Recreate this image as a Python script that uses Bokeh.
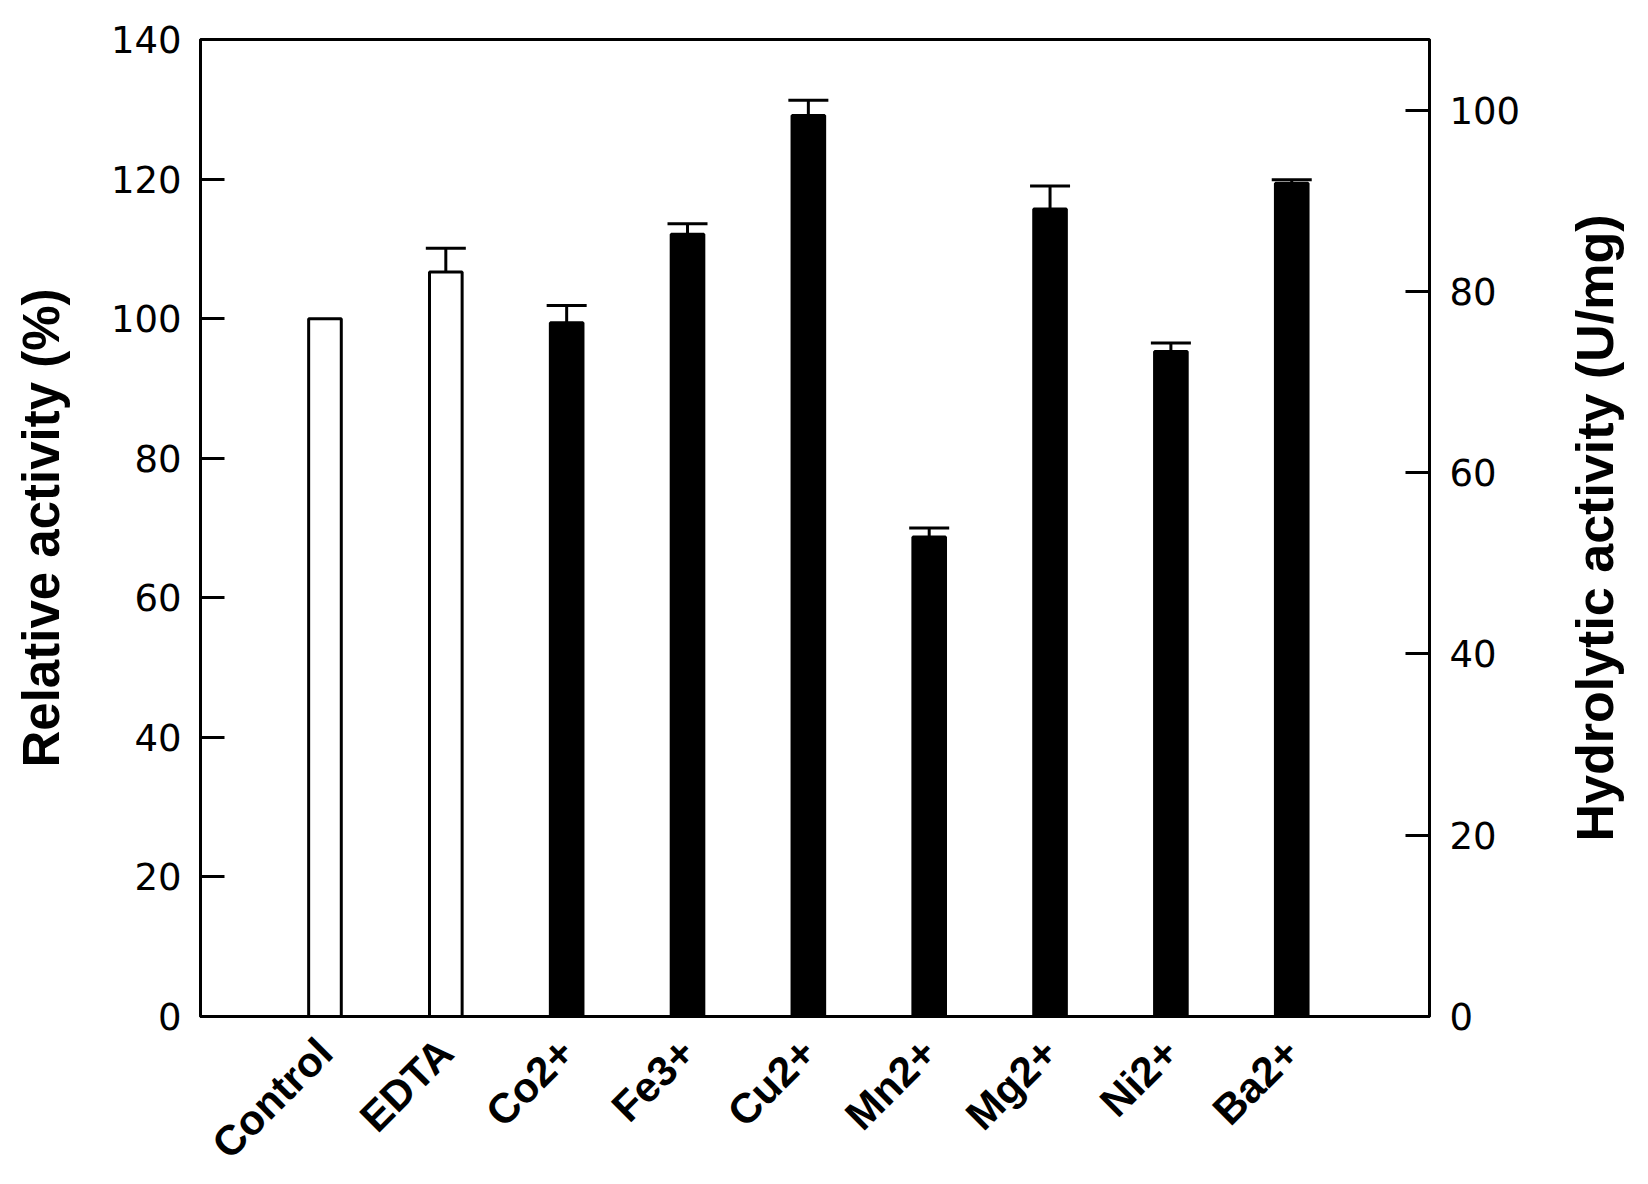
import math
from bokeh.plotting import figure
from bokeh.layouts import row
from bokeh.models import (ColumnDataSource, Range1d, LinearAxis, FixedTicker,
                          Whisker, TeeHead)
from bokeh.core.properties import value
from bokeh.embed import file_html
from bokeh.resources import INLINE

# ---- data ----
categories = ["Control", "EDTA", "Co2+", "Fe3+", "Cu2+", "Mn2+", "Mg2+", "Ni2+", "Ba2+"]
relative_activity = [100.0, 106.7, 99.4, 112.1, 129.1, 68.7, 115.7, 95.3, 119.4]
errors = [0.0, 3.4, 2.5, 1.5, 2.2, 1.3, 3.3, 1.2, 0.5]
fill_colors = ["white", "white", "black", "black", "black", "black", "black", "black", "black"]
left_ticks = [0, 20, 40, 60, 80, 100, 120, 140]
right_ticks = [0, 20, 40, 60, 80, 100]
right_max = 107.8
x_start, x_end = -0.03, 10.14
y_start, y_end = 0, 140
left_title = "Relative activity (%)"
right_title = "Hydrolytic activity (U/mg)"

positions = list(range(1, len(categories) + 1))

src = ColumnDataSource(dict(x=positions, top=relative_activity, color=fill_colors))
err_idx = [i for i, e in enumerate(errors) if e > 0]
err_src = ColumnDataSource(dict(
    x=[positions[i] for i in err_idx],
    lower=[relative_activity[i] for i in err_idx],
    upper=[relative_activity[i] + errors[i] for i in err_idx],
))

FRAME_H = 977
TOP = 39
BOTTOM = 150

p = figure(frame_width=1229, frame_height=FRAME_H,
           x_range=Range1d(x_start, x_end), y_range=Range1d(y_start, y_end),
           output_backend="svg", toolbar_location=None,
           min_border_left=200, min_border_right=110,
           min_border_top=TOP, min_border_bottom=BOTTOM)
p.background_fill_color = "white"
p.border_fill_color = "white"
p.outline_line_color = "black"
p.outline_line_width = 3
p.xgrid.visible = False
p.ygrid.visible = False

p.vbar(x="x", top="top", width=0.27, bottom=0, source=src,
       fill_color="color", line_color="black", line_width=3)

w = Whisker(base="x", upper="upper", lower="lower", source=err_src,
            upper_head=TeeHead(size=40, line_width=3, line_color="black"),
            lower_head=None, line_width=3, line_color="black")
p.add_layout(w)

tick_font = "DejaVu Sans"
title_font = "Liberation Sans"

# left axis
ya = p.yaxis[0]
ya.ticker = FixedTicker(ticks=left_ticks)
ya.axis_label = left_title
ya.axis_label_text_font = title_font
ya.axis_label_text_font_style = "bold"
ya.axis_label_text_font_size = "51px"
ya.axis_label_text_color = "black"
ya.axis_label_standoff = 38
ya.major_label_text_font = tick_font
ya.major_label_text_font_size = "37px"
ya.major_label_text_color = "black"
ya.major_label_standoff = 19
ya.major_tick_in = 24
ya.major_tick_out = 0
ya.minor_tick_in = 0
ya.minor_tick_out = 0
ya.major_tick_line_width = 3
ya.axis_line_width = 3
ya.axis_line_color = "black"
ya.major_tick_line_color = "black"

# right axis
p.extra_y_ranges = {"hyd": Range1d(0, right_max)}
ra = LinearAxis(y_range_name="hyd", ticker=FixedTicker(ticks=right_ticks))
ra.major_label_text_font = tick_font
ra.major_label_text_font_size = "37px"
ra.major_label_text_color = "black"
ra.major_label_standoff = 20
ra.major_tick_in = 24
ra.major_tick_out = 0
ra.minor_tick_in = 0
ra.minor_tick_out = 0
ra.major_tick_line_width = 3
ra.axis_line_width = 3
ra.axis_line_color = "black"
ra.major_tick_line_color = "black"
p.add_layout(ra, "right")

# bottom axis
xa = p.xaxis[0]
xa.ticker = FixedTicker(ticks=positions)
xa.major_label_overrides = {pos: name for pos, name in zip(positions, categories)}
xa.major_label_orientation = math.pi / 4
xa.major_label_text_font = title_font
xa.major_label_text_font_style = "bold"
xa.major_label_text_font_size = "42px"
xa.major_label_text_color = "black"
xa.major_label_standoff = 29
xa.major_tick_in = 0
xa.major_tick_out = 0
xa.minor_tick_in = 0
xa.minor_tick_out = 0
xa.axis_line_width = 3
xa.axis_line_color = "black"

# right-hand title strip (reads bottom-to-top)
t = figure(frame_width=97, frame_height=FRAME_H,
           x_range=Range1d(0, 1), y_range=Range1d(y_start, y_end),
           output_backend="svg", toolbar_location=None,
           x_axis_location=None, y_axis_location=None,
           min_border_left=7, min_border_right=0,
           min_border_top=TOP, min_border_bottom=BOTTOM)
t.outline_line_color = None
t.xgrid.visible = False
t.ygrid.visible = False
t.background_fill_color = "white"
t.border_fill_color = "white"
t.text(x=[0.5], y=[(y_start + y_end) / 2], text=[right_title],
       angle=math.pi / 2, text_align="center", text_baseline="middle",
       text_font=value(title_font), text_font_style="bold",
       text_font_size="52px", text_color="black")

layout = row(p, t)
open("out.html", "w").write(file_html(layout, INLINE))
